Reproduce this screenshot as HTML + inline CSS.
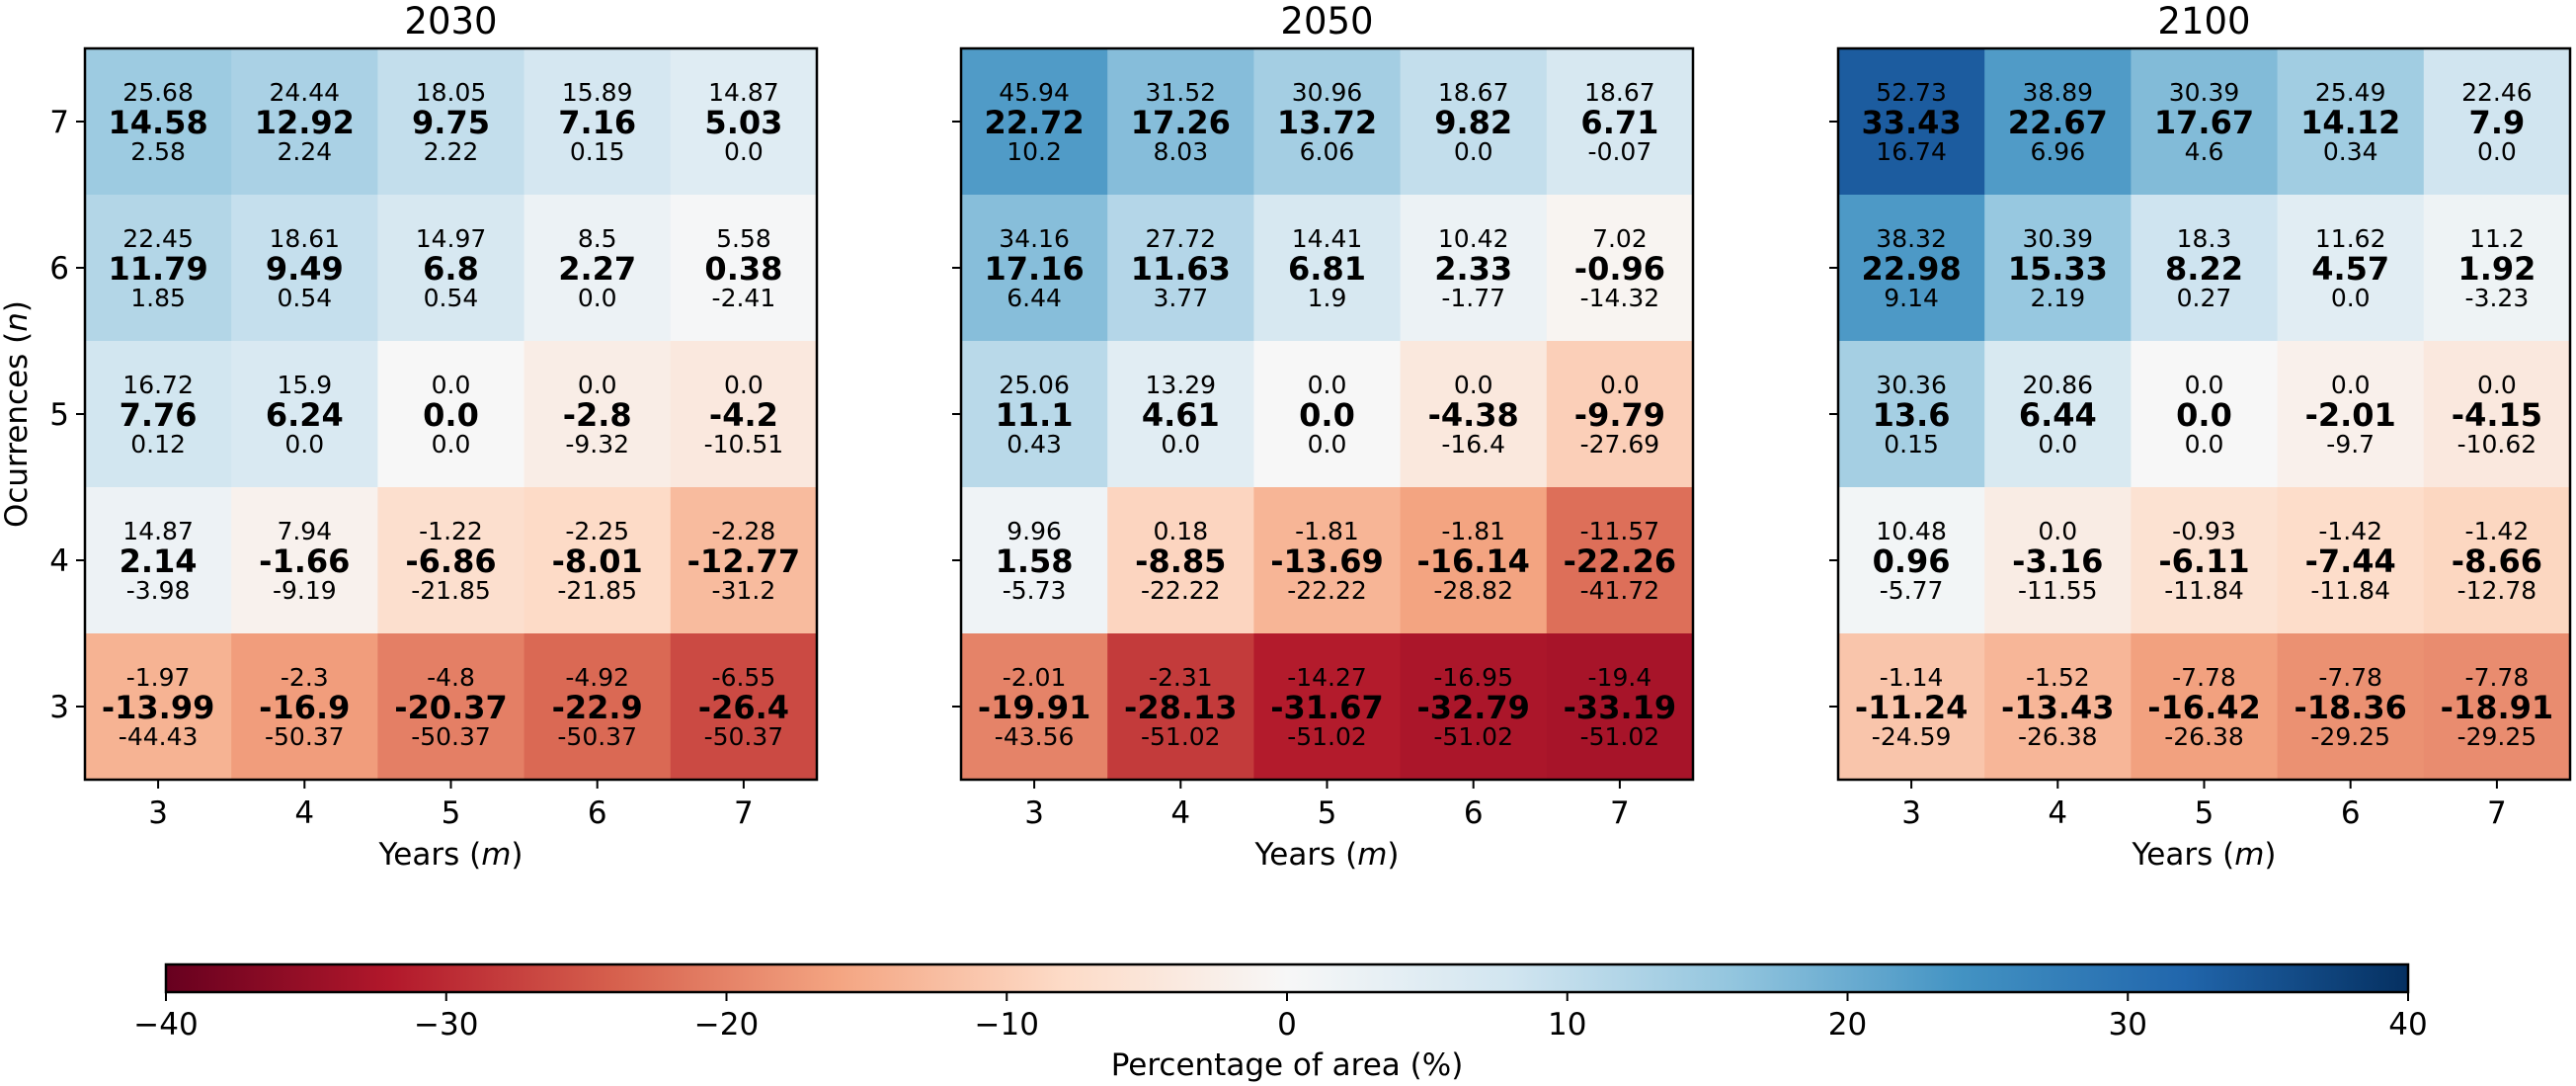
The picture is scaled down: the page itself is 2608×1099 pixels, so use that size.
<!DOCTYPE html>
<html><head><meta charset="utf-8">
<style>
html,body{margin:0;padding:0;background:#fff;}
svg{display:block;font-family:"DejaVu Sans","Liberation Sans",sans-serif;}
</style></head>
<body>
<svg id="chart" width="2608" height="1099" viewBox="0 0 2608 1099" xmlns="http://www.w3.org/2000/svg">
<defs>
<linearGradient id="rdbu" x1="0" x2="1" y1="0" y2="0">
<stop offset="0" stop-color="#67001f"/><stop offset="0.1" stop-color="#b2182b"/>
<stop offset="0.2" stop-color="#d6604d"/><stop offset="0.3" stop-color="#f4a582"/>
<stop offset="0.4" stop-color="#fddbc7"/><stop offset="0.5" stop-color="#f7f7f7"/>
<stop offset="0.6" stop-color="#d1e5f0"/><stop offset="0.7" stop-color="#92c5de"/>
<stop offset="0.8" stop-color="#4393c3"/><stop offset="0.9" stop-color="#2166ac"/>
<stop offset="1" stop-color="#053061"/>
</linearGradient>
</defs>
<g id="panels"></g>
<g id="cbar"></g>
</svg>
<script>
// categories
const yearsM = [3,4,5,6,7];
const occurrencesN = [7,6,5,4,3];
const panelTitles = ["2030","2050","2100"];
// rows top (n=7) to bottom (n=3), columns m=3..7
const upper2030 = [[25.68,24.44,18.05,15.89,14.87],[22.45,18.61,14.97,8.5,5.58],[16.72,15.9,0.0,0.0,0.0],[14.87,7.94,-1.22,-2.25,-2.28],[-1.97,-2.3,-4.8,-4.92,-6.55]];
const mean2030 = [[14.58,12.92,9.75,7.16,5.03],[11.79,9.49,6.8,2.27,0.38],[7.76,6.24,0.0,-2.8,-4.2],[2.14,-1.66,-6.86,-8.01,-12.77],[-13.99,-16.9,-20.37,-22.9,-26.4]];
const lower2030 = [[2.58,2.24,2.22,0.15,0.0],[1.85,0.54,0.54,0.0,-2.41],[0.12,0.0,0.0,-9.32,-10.51],[-3.98,-9.19,-21.85,-21.85,-31.2],[-44.43,-50.37,-50.37,-50.37,-50.37]];
const upper2050 = [[45.94,31.52,30.96,18.67,18.67],[34.16,27.72,14.41,10.42,7.02],[25.06,13.29,0.0,0.0,0.0],[9.96,0.18,-1.81,-1.81,-11.57],[-2.01,-2.31,-14.27,-16.95,-19.4]];
const mean2050 = [[22.72,17.26,13.72,9.82,6.71],[17.16,11.63,6.81,2.33,-0.96],[11.1,4.61,0.0,-4.38,-9.79],[1.58,-8.85,-13.69,-16.14,-22.26],[-19.91,-28.13,-31.67,-32.79,-33.19]];
const lower2050 = [[10.2,8.03,6.06,0.0,-0.07],[6.44,3.77,1.9,-1.77,-14.32],[0.43,0.0,0.0,-16.4,-27.69],[-5.73,-22.22,-22.22,-28.82,-41.72],[-43.56,-51.02,-51.02,-51.02,-51.02]];
const upper2100 = [[52.73,38.89,30.39,25.49,22.46],[38.32,30.39,18.3,11.62,11.2],[30.36,20.86,0.0,0.0,0.0],[10.48,0.0,-0.93,-1.42,-1.42],[-1.14,-1.52,-7.78,-7.78,-7.78]];
const mean2100 = [[33.43,22.67,17.67,14.12,7.9],[22.98,15.33,8.22,4.57,1.92],[13.6,6.44,0.0,-2.01,-4.15],[0.96,-3.16,-6.11,-7.44,-8.66],[-11.24,-13.43,-16.42,-18.36,-18.91]];
const lower2100 = [[16.74,6.96,4.6,0.34,0.0],[9.14,2.19,0.27,0.0,-3.23],[0.15,0.0,0.0,-9.7,-10.62],[-5.77,-11.55,-11.84,-11.84,-12.78],[-24.59,-26.38,-26.38,-29.25,-29.25]];
const cbarTicks = [-40,-30,-20,-10,0,10,20,30,40];

const NS="http://www.w3.org/2000/svg";
const stops=["#67001f","#b2182b","#d6604d","#f4a582","#fddbc7","#f7f7f7","#d1e5f0","#92c5de","#4393c3","#2166ac","#053061"];
function hex(h){return [1,3,5].map(i=>parseInt(h.substr(i,2),16));}
function cmap(v){
  let t=(v+40)/80; t=Math.max(0,Math.min(1,t));
  let p=t*10, i=Math.min(9,Math.floor(p)), f=p-i;
  const a=hex(stops[i]), b=hex(stops[i+1]);
  return "rgb("+a.map((c,k)=>Math.round(c+(b[k]-c)*f)).join(",")+")";
}
function el(tag,attrs,parent,txt){const e=document.createElementNS(NS,tag);for(const k in attrs)e.setAttribute(k,attrs[k]);if(txt!==undefined)e.textContent=txt;parent.appendChild(e);return e;}
function fmt(v){return Number.isInteger(v)?v.toFixed(1):String(v);}

const panelsData=[[upper2030,mean2030,lower2030],[upper2050,mean2050,lower2050],[upper2100,mean2100,lower2100]];
const panelLeft=[86,973,1861], PW=741, PTOP=49, PH=740;
const root=document.getElementById("panels");
panelsData.forEach((d,p)=>{
  const g=el("g",{},root);
  
  
  const x0=panelLeft[p], cw=PW/yearsM.length, ch=PH/occurrencesN.length;
  const xs=i=>x0+i*cw, ys=j=>PTOP+j*ch;
  const t=el("text",{x:x0+PW/2,y:34,"text-anchor":"middle","font-size":"37"},g,panelTitles[p]);
  
  
  occurrencesN.forEach((n,j)=>{
    yearsM.forEach((m,i)=>{
      const r=el("rect",{x:xs(i),y:ys(j),width:cw+0.5,height:ch+0.5,fill:cmap(d[1][j][i])},g);
      
      
      const cx=xs(i)+cw/2, cy=ys(j)+ch/2;
      const a=el("text",{x:cx,y:cy-21,"text-anchor":"middle","font-size":"25"},g,fmt(d[0][j][i]));
      
      
      const b=el("text",{x:cx,y:cy+12,"text-anchor":"middle","font-size":"32","font-weight":"bold"},g,fmt(d[1][j][i]));
      
      
      const c=el("text",{x:cx,y:cy+39,"text-anchor":"middle","font-size":"25"},g,fmt(d[2][j][i]));
      
      
    });
    const ty=ys(j)+ch/2;
    el("line",{x1:x0-9,x2:x0,y1:ty,y2:ty,stroke:"#000","stroke-width":"2"},g);
    if(p===0){
      const tl=el("text",{x:x0-16,y:ty+11,"text-anchor":"end","font-size":"31"},g,String(n));
      
      
    }
  });
  yearsM.forEach((m,i)=>{
    const tx=xs(i)+cw/2;
    el("line",{x1:tx,x2:tx,y1:PTOP+PH,y2:PTOP+PH+9,stroke:"#000","stroke-width":"2"},g);
    const tl=el("text",{x:tx,y:PTOP+PH+44,"text-anchor":"middle","font-size":"31"},g,String(m));
    
    
  });
  el("rect",{x:x0,y:PTOP,width:PW,height:PH,fill:"none",stroke:"#000","stroke-width":"2.5"},g);
  const xl=el("text",{x:x0+PW/2,y:875,"text-anchor":"middle","font-size":"31"},g);
  
  
  xl.innerHTML='Years (<tspan font-style="italic">m</tspan>)';
  if(p===0){
    const yl=el("text",{x:0,y:0,"text-anchor":"middle","font-size":"31",transform:"translate(27,"+(PTOP+PH/2)+") rotate(-90)"},g);
    
    
    yl.innerHTML='Ocurrences (<tspan font-style="italic">n</tspan>)';
  }
});

// colorbar
const cb=document.getElementById("cbar");
const CX0=168, CX1=2438, CY=976, CH=28;
const cbx=v=>CX0+(v+40)/80*(CX1-CX0);
const cr=el("rect",{x:CX0,y:CY,width:CX1-CX0,height:CH,fill:"url(#rdbu)",stroke:"#000","stroke-width":"2.5"},cb);


cbarTicks.forEach(v=>{
  el("line",{x1:cbx(v),x2:cbx(v),y1:CY+CH,y2:CY+CH+9,stroke:"#000","stroke-width":"2"},cb);
  const t=el("text",{x:cbx(v),y:1047,"text-anchor":"middle","font-size":"31"},cb,(v<0?"\u2212"+(-v):String(v)));
  
  
});
const cl=el("text",{x:(CX0+CX1)/2,y:1088,"text-anchor":"middle","font-size":"31"},cb,"Percentage of area (%)");


</script>
</body></html>
